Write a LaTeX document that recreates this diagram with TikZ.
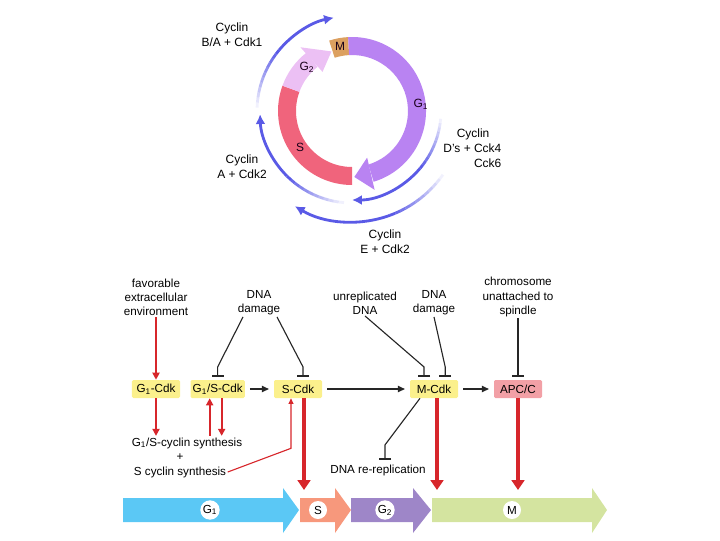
\documentclass[tikz,border=0pt]{standalone}
\usepackage{fontspec}
\setmainfont{Liberation Sans}
\usetikzlibrary{arrows.meta,positioning}

\definecolor{cdkyellow}{HTML}{FBF08C}
\definecolor{apcpink}{HTML}{F2A0A6}
\definecolor{actred}{HTML}{D7262B}
\definecolor{cycblue}{HTML}{5A5AE6}
\definecolor{ringGi}{HTML}{B983F2}
\definecolor{ringS}{HTML}{F0647C}
\definecolor{ringGii}{HTML}{ECC0F4}
\definecolor{ringM}{HTML}{DCA060}
\definecolor{phGi}{HTML}{5BC8F5}
\definecolor{phS}{HTML}{F7987C}
\definecolor{phGii}{HTML}{9E86C8}
\definecolor{phM}{HTML}{D4E4A0}

\tikzset{
  cdk/.style={fill=cdkyellow, minimum width=1.2cm, minimum height=0.45cm, inner sep=1.5pt, rounded corners=1pt},
  cue/.style={align=center, inner sep=1pt},
  cyclbl/.style={align=center, inner sep=1pt, font=\fontsize{8.5}{10.5}\selectfont},
  ringlbl/.style={inner sep=0pt, text=black!80!violet, font=\fontsize{8.5}{10}\selectfont},
  phaselbl/.style={circle, fill=white, inner sep=0.5pt, minimum size=0.45cm},
  cycline/.style={draw=cycblue, line width=2pt},
  act/.style={draw=actred, line width=1.6pt, -{Triangle[length=5pt,width=5pt]}},
  feed/.style={draw=actred, line width=0.8pt, -{Triangle[length=4pt,width=3.5pt]}},
  drive/.style={draw=actred, line width=3pt, -{Triangle[length=7pt,width=9pt]}},
  pro/.style={draw=black!85, line width=0.9pt, -{Triangle[length=5pt,width=4.5pt]}, shorten <=0.12cm, shorten >=0.12cm},
  inh/.style={draw=black!85, line width=0.8pt, -{Bar[width=0.3cm, line width=1.2pt]}, shorten >=0.08cm}
}

% ring piece: colour, from angle, to angle
\newcommand{\ringseg}[3]{\fill[#1] (#2:74) arc[start angle=#2, end angle=#3, radius=74] -- (#3:56) arc[start angle=#3, end angle=#2, radius=56] -- cycle;}

% fading cyclin arc: radius, start, end of fade, end
\newcommand{\cycarc}[4]{%
  \foreach \k in {0,...,11}{%
    \pgfmathsetmacro{\angA}{#2+(#3-#2)*\k/12}%
    \pgfmathsetmacro{\angB}{#2+(#3-#2)*(\k+1)/12}%
    \pgfmathsetmacro{\cop}{(\k+1)/12}%
    \draw[cycline, draw opacity=\cop] (\angA:#1) arc[start angle=\angA, end angle=\angB, radius=#1];
  }%
  \draw[cycline, -{Latex[length=7pt,width=7pt]}] (#3:#1) arc[start angle=#3, end angle=#4, radius=#1];
}

% phase arrow: name, x start, x head, x tip, colour, label x, label
\newcommand{\phasearrow}[7]{%
  \fill[#5] (#2,498) -- (#3,498) -- (#3,488) -- (#4,510) -- (#3,533) -- (#3,522) -- (#2,522) -- cycle;
  \node[phaselbl] (#1) at (#6,510) {#7};
}

\begin{document}
\begin{tikzpicture}[x=0.025cm, y=-0.025cm, every node/.style={font=\fontsize{8.3}{10}\selectfont}]
\useasboundingbox (0,0) rectangle (720,540);

% cell cycle ring
\begin{scope}[shift={(352,111)}, yscale=-1]
  \ringseg{ringS}{160}{270}
  \ringseg{ringGii}{128}{160}
  \fill[ringGii] (129:82) -- (127:49) -- (109:63) -- cycle;
  \ringseg{ringM}{93}{108}
  \ringseg{ringGi}{-73}{93}
  \fill[ringGi] (-72:49) -- (-74:82) -- (-88:66) -- cycle;
  \cycarc{95}{178}{140}{101}
  \cycarc{92}{265}{225}{182}
  \cycarc{89}{-5}{-40}{-90}
  \cycarc{111}{-35}{-70}{-121}
\end{scope}

\node[ringlbl] (mlbl) at (340,46) {M};
\node[ringlbl] (giilbl) at (307,67) {G\textsubscript{2}};
\node[ringlbl] (gilbl) at (421,104) {G\textsubscript{1}};
\node[ringlbl] (slbl) at (300,147) {S};

\node[cyclbl] (cba) at (232,35) {Cyclin\\B/A + Cdk1};
\node[cyclbl] (ca) at (242,167) {Cyclin\\A + Cdk2};
\node[cyclbl, align=right, anchor=east] (cd) at (503,148) {Cyclin\hspace*{0.3cm}\\D's + Cck4\\Cck6};
\node[cyclbl] (ce) at (385,242) {Cyclin\\E + Cdk2};

% control network
\node[cue] (env) at (156,297) {favorable\\extracellular\\environment};
\node[cue] (dmgA) at (259,303) {DNA\\damage};
\node[cue] (unrep) at (365,303) {unreplicated\\DNA};
\node[cue] (dmgB) at (434,303) {DNA\\damage};
\node[cue] (chrom) at (518,297) {chromosome\\unattached to\\spindle};

\node[cdk] (gicdk) at (156,389) {G\textsubscript{1}-Cdk};
\node[cdk, right=0.25cm of gicdk] (giscdk) {G\textsubscript{1}/S-Cdk};
\node[cdk] (scdk) at (298,389) {S-Cdk};
\node[cdk] (mcdk) at (434,389) {M-Cdk};
\node[cdk, fill=apcpink] (apc) at (518,389) {APC/C};

\node[cue] (gssyn) at (187,443) {G\textsubscript{1}/S-cyclin synthesis};
\node[cue] (plus) at (180,457) {+};
\node[cue] (ssyn) at (180,472) {S cyclin synthesis};
\node[cue] (rerep) at (378,470) {DNA re-replication};

\draw[act] (env) -- (gicdk);
\draw[act] (gicdk) -- (gicdk |- gssyn.north);
\coordinate (upA) at ([xshift=-0.2cm]giscdk.south);
\coordinate (dnA) at ([xshift=0.1cm]giscdk.south);
\draw[act] (upA |- gssyn.north) -- (upA);
\draw[act] (dnA) -- (dnA |- gssyn.north);
\coordinate (sIn) at ([xshift=-0.175cm]scdk.south);
\draw[feed] (ssyn.east) -- ([yshift=-1.25cm]sIn) -- (sIn);

\draw[pro] (giscdk) -- (scdk);
\draw[pro] (scdk) -- (mcdk);
\draw[pro] (mcdk) -- (apc);

\draw[inh] ([xshift=-0.4cm]dmgA.south) -- ([yshift=0.32cm]giscdk.north) -- (giscdk.north);
\draw[inh] ([xshift=0.45cm]dmgA.south) -- ([xshift=0.125cm, yshift=0.32cm]scdk.north) -- ([xshift=0.125cm]scdk.north);
\draw[inh] (unrep.south) -- ([xshift=-0.25cm, yshift=0.32cm]mcdk.north) -- ([xshift=-0.25cm]mcdk.north);
\draw[inh] (dmgB.south) -- ([xshift=0.28cm, yshift=0.32cm]mcdk.north) -- ([xshift=0.28cm]mcdk.north);
\draw[inh] (chrom) -- (apc);
\coordinate (rr) at ([xshift=0.175cm]rerep.north);
\draw[inh] ([xshift=-0.35cm]mcdk.south) -- ([yshift=0.45cm]rr) -- (rr);

% phases
\phasearrow{phgi}{123}{283}{299}{phGi}{210}{G\textsubscript{1}}
\phasearrow{phs}{300}{335}{351}{phS}{318}{S}
\phasearrow{phgii}{351}{413}{431}{phGii}{385}{G\textsubscript{2}}
\phasearrow{phm}{432}{592}{607}{phM}{512}{M}

\coordinate (ptop) at (0,490);
\coordinate (sDn) at ([xshift=0.15cm]scdk.south);
\coordinate (mDn) at ([xshift=0.075cm]mcdk.south);
\draw[drive] (sDn) -- (sDn |- ptop);
\draw[drive] (mDn) -- (mDn |- ptop);
\draw[drive] (apc) -- (apc |- ptop);

\end{tikzpicture}
\end{document}
